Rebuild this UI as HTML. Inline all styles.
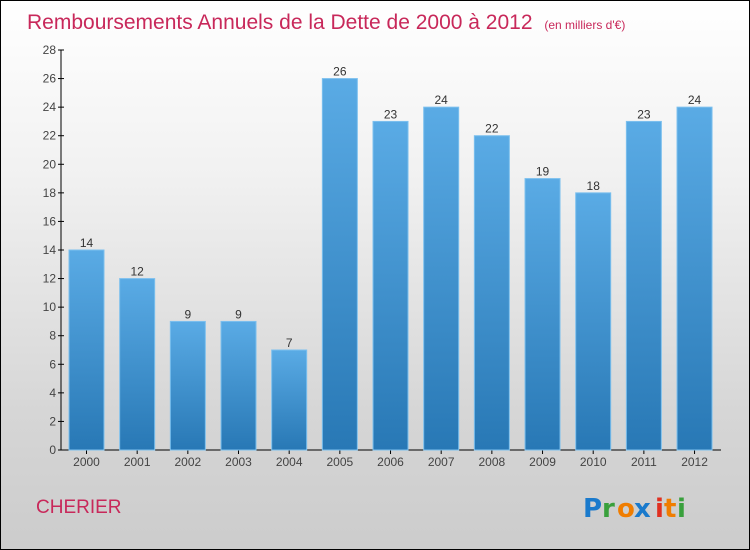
<!DOCTYPE html>
<html><head><meta charset="utf-8"><style>
body{margin:0;}
#c{position:relative;width:748px;height:548px;border:1px solid #000;background:linear-gradient(#ffffff 0%,#f2f2f2 30%,#d6d6d6 75%,#cccccc 100%);font-family:"Liberation Sans",sans-serif;overflow:hidden}
</style></head><body>
<div id="c">
<svg width="748" height="548">
<defs><linearGradient id="bg" x1="0" y1="0" x2="0" y2="1"><stop offset="0" stop-color="#5aabe5"/><stop offset="1" stop-color="#2878b5"/></linearGradient></defs>
<text x="26" y="28" font-size="21" fill="#c8285a">Remboursements Annuels de la Dette de 2000 à 2012 <tspan font-size="12" dx="6">(en milliers d'€)</tspan></text>
<g id="ax"></g><g id="bars"></g>
<text x="35" y="512" font-size="19" fill="#c8285a">CHERIER</text>
<g font-size="26" font-weight="bold" font-family="'DejaVu Sans',sans-serif">
<text x="582" y="516" fill="#1a7acc">P</text><text x="601" y="516" fill="#39a03c">r</text><text x="616" y="516" fill="#f07d00">o</text><text x="633" y="516" fill="#1a7acc">x</text><text x="654" y="516" fill="#e03020">i</text><text x="663" y="516" fill="#f07d00">t</text><text x="676" y="516" fill="#39a03c">i</text></g>
</svg></div>
<script>
const categories=["2000","2001","2002","2003","2004","2005","2006","2007","2008","2009","2010","2011","2012"];
const values=[14,12,9,9,7,26,23,24,22,19,18,23,24];
const yTicks=[0,2,4,6,8,10,12,14,16,18,20,22,24,26,28];
const NS="http://www.w3.org/2000/svg";
const y0=449,yTop=49,yMax=28,x0=60,step=50.67,bw=35;
const y=v=>y0-(v/yMax)*(y0-yTop);
const xc=i=>x0+25.5+i*step;
function mk(t,a,p){const e=document.createElementNS(NS,t);for(const k in a)e.setAttribute(k,a[k]);p.appendChild(e);return e;}
const ax=document.getElementById('ax'),bars=document.getElementById('bars');
const yl=mk('line',{x1:x0,y1:yTop,x2:x0,y2:y0,stroke:'#000'},ax);


const xl=mk('line',{x1:x0,y1:y0,x2:720,y2:y0,stroke:'#000'},ax);


yTicks.forEach(t=>{mk('line',{x1:x0-3,x2:x0+3,y1:y(t),y2:y(t),stroke:'#000'},ax);
const tx=mk('text',{x:x0-5,y:y(t)+4,'font-size':12,'text-anchor':'end',fill:'#444'},ax);tx.textContent=t;

});
categories.forEach((c,i)=>{const v=values[i];
const r=mk('rect',{x:xc(i)-bw/2,y:y(v),width:bw,height:y0-y(v),fill:'url(#bg)',stroke:'#7cc0ee','stroke-width':1},bars);


const l=mk('text',{x:xc(i),y:y(v)-3,'font-size':12,'text-anchor':'middle',fill:'#333'},bars);l.textContent=v;


mk('line',{x1:xc(i),x2:xc(i),y1:y0,y2:y0+4,stroke:'#000'},ax);
const t=mk('text',{x:xc(i),y:y0+16,'font-size':12,'text-anchor':'middle',fill:'#444'},ax);t.textContent=c;

});
</script></body></html>
